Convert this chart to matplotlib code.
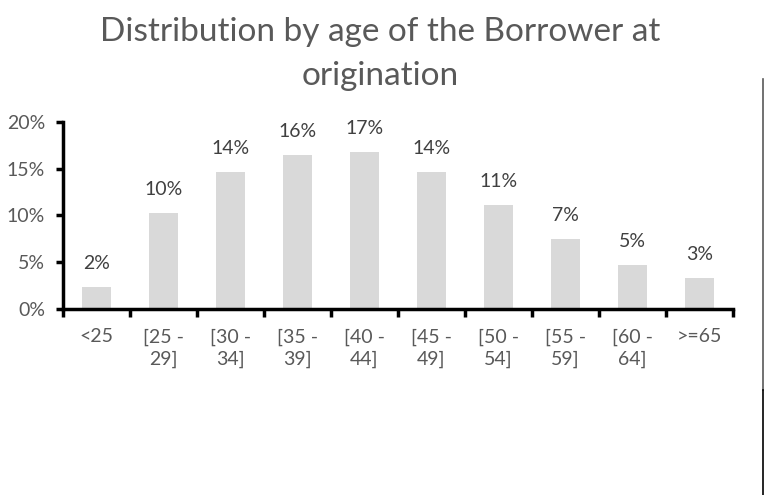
import numpy as np
import matplotlib
matplotlib.use("Agg")
import matplotlib.pyplot as plt
from matplotlib.ticker import FixedLocator

# Data
categories = ["<25", "[25 -\n29]", "[30 -\n34]", "[35 -\n39]", "[40 -\n44]",
              "[45 -\n49]", "[50 -\n54]", "[55 -\n59]", "[60 -\n64]", ">=65"]
shares = [2.3, 10.2, 14.6, 16.5, 16.8, 14.6, 11.1, 7.5, 4.7, 3.3]
labels = ["2%", "10%", "14%", "16%", "17%", "14%", "11%", "7%", "5%", "3%"]
yticks = [0, 5, 10, 15, 20]

plt.rcParams["font.family"] = ["Lato", "DejaVu Sans"]
grey = "#595959"

fig = plt.figure(figsize=(7.64, 4.95), dpi=100)
ax = fig.add_axes([0.0825, 0.376, 0.8765, 0.378])

x = np.arange(len(categories))
ax.bar(x, shares, width=0.43, color="#d9d9d9")

for xi, v, lab in zip(x, shares, labels):
    ax.text(xi, v + 1.6, lab, ha="center", va="bottom", fontsize=14, color="#404040")

ax.set_xlim(-0.5, len(categories) - 0.5)
ax.set_ylim(0, 20)
ax.set_yticks(yticks)
ax.set_yticklabels([f"{t}%" for t in yticks], fontsize=14, color=grey)

# category labels centred, tick marks on the boundaries
ax.xaxis.set_major_locator(FixedLocator(np.arange(-0.5, len(categories), 1.0)))
ax.set_xticklabels([])
ax.tick_params(axis="x", which="major", length=6, width=2.5, direction="out", color="black")
ax.set_xticks(x, minor=True)
ax.set_xticklabels(categories, minor=True, fontsize=14, color=grey, linespacing=1.35)
ax.tick_params(axis="x", which="minor", length=0, pad=14)
ax.tick_params(axis="y", length=5, width=2.5, direction="out", pad=8)

for side in ["top", "right"]:
    ax.spines[side].set_visible(False)
for side in ["left", "bottom"]:
    ax.spines[side].set_linewidth(2.5)

fig.text(0.497, 0.965, "Distribution by age of the Borrower at\norigination",
         ha="center", va="top", fontsize=24, color=grey, linespacing=1.55)

# frame line on the right edge, grey above and black below
fig.add_artist(plt.Line2D([0.9987, 0.9987], [0.212, 0.84], transform=fig.transFigure,
                          color="#595959", linewidth=1.2))
fig.add_artist(plt.Line2D([0.9987, 0.9987], [0.0, 0.212], transform=fig.transFigure,
                          color="black", linewidth=1.2))

fig.savefig("out.png", dpi=100)
